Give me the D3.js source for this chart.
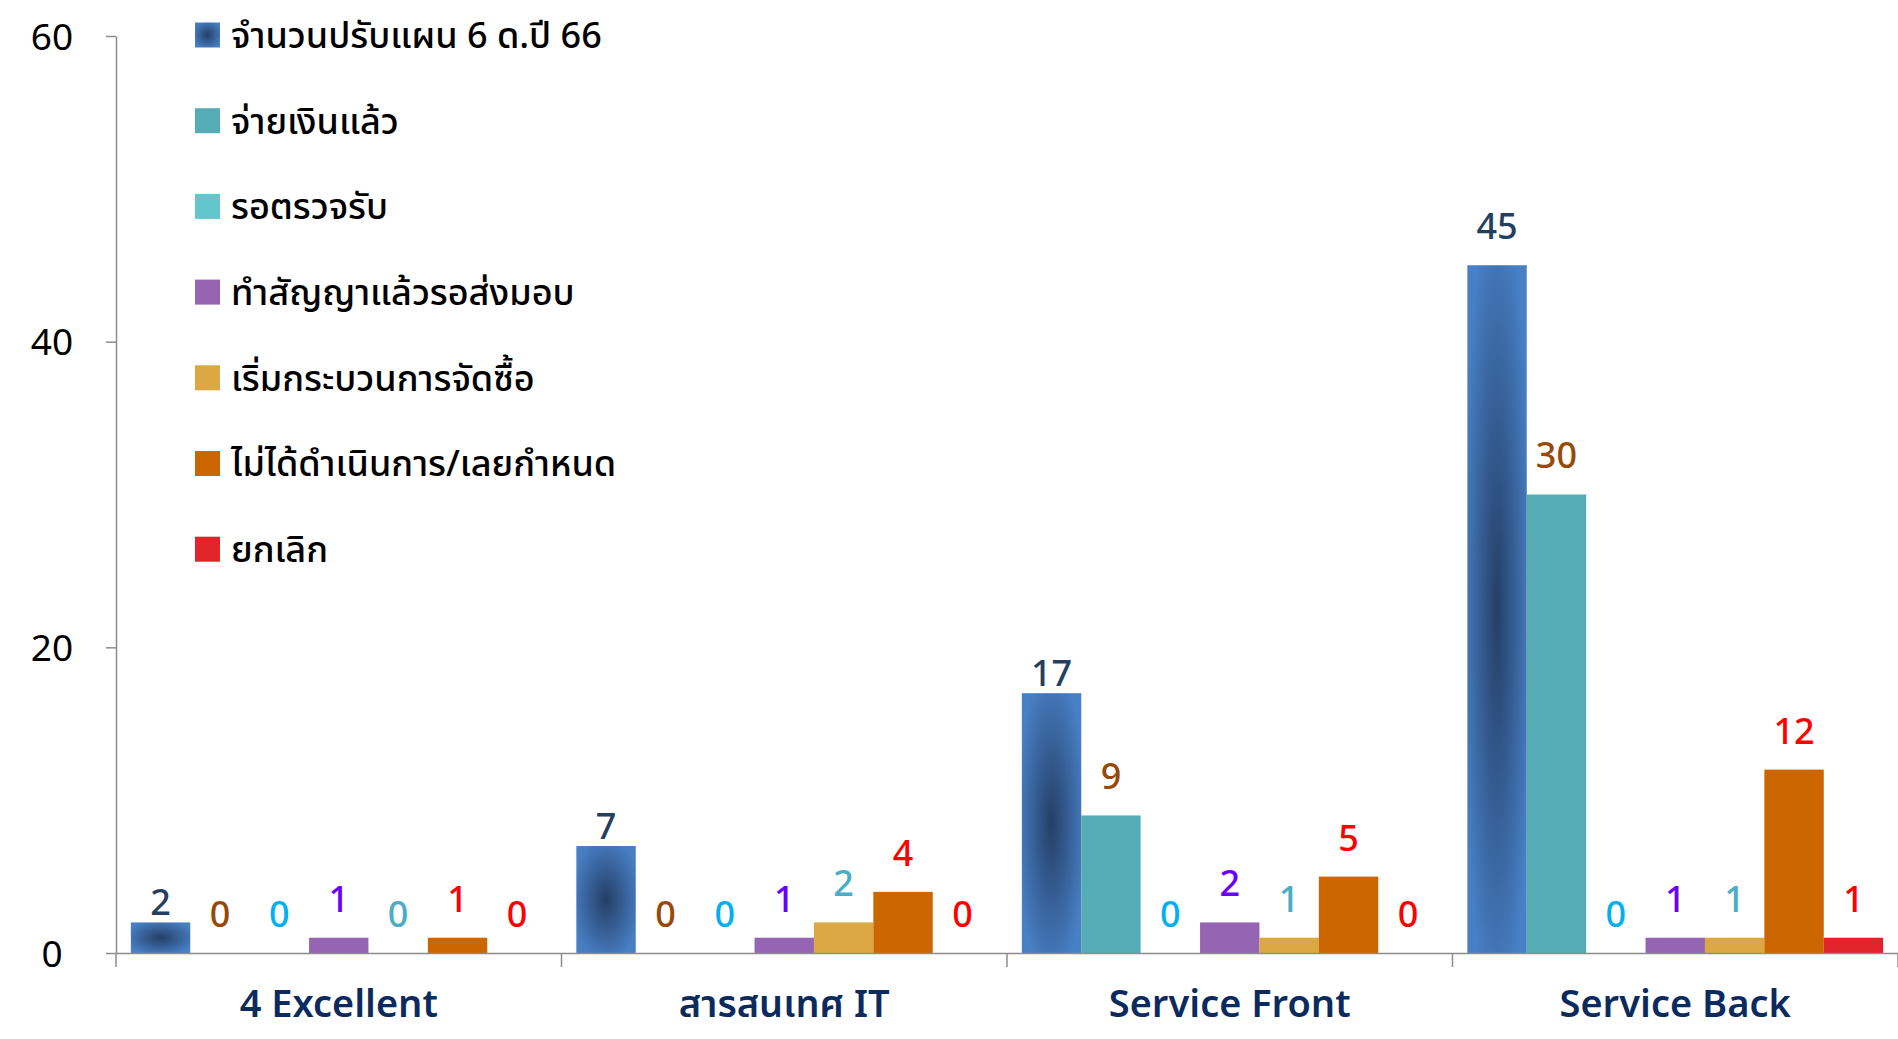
<!DOCTYPE html>
<html>
<head>
<meta charset="utf-8">
<script src="https://cdn.jsdelivr.net/npm/d3@7"></script>
<style>
  html, body { margin: 0; padding: 0; background: #fff; }
  svg text { font-family: "Noto Sans Thai", "Noto Sans", "DejaVu Sans", sans-serif; }
</style>
</head>
<body>
<div id="chart"></div>
<script>
// categories and series
var categories = ["4 Excellent", "สารสนเทศ IT", "Service Front", "Service Back"];
var seriesNames = [
    "จำนวนปรับแผน 6 ด.ปี 66",
    "จ่ายเงินแล้ว",
    "รอตรวจรับ",
    "ทำสัญญาแล้วรอส่งมอบ",
    "เริ่มกระบวนการจัดซื้อ",
    "ไม่ได้ดำเนินการ/เลยกำหนด",
    "ยกเลิก"
];
var planned    = [2, 7, 17, 45];
var paid       = [0, 0, 9, 30];
var inspecting = [0, 0, 0, 0];
var contracted = [1, 1, 2, 1];
var purchasing = [0, 2, 1, 1];
var overdue    = [1, 4, 5, 12];
var cancelled  = [0, 0, 0, 1];
var yTicks = [0, 20, 40, 60];

var seriesValues = [planned, paid, inspecting, contracted, purchasing, overdue, cancelled];
var barColors = ["url(#planGrad)", "#56acb4", "#63c6cd", "#9565b4", "#dba844", "#cc6600", "#e1232a"];
var labelColors = ["#243f60", "#984807", "#00b0f0", "#6a00ff", "#4bacc6", "#ff0000", "#ff0000"];

var W = 1898, H = 1039;
var margin = { top: 36, right: 0, bottom: 86, left: 116 };
var height = H - margin.top - margin.bottom;

var svg = d3.select("#chart").append("svg").attr("width", W).attr("height", H);

var defs = svg.append("defs");
var grad = defs.append("radialGradient").attr("id", "planGrad")
    .attr("cx", "50%").attr("cy", "50%").attr("r", "60%");
grad.append("stop").attr("offset", "0%").attr("stop-color", "#253f66");
grad.append("stop").attr("offset", "100%").attr("stop-color", "#4880c6");

var x0 = d3.scaleBand().domain(categories).range([margin.left, W - margin.right]);
var x1 = d3.scaleBand().domain(d3.range(seriesNames.length)).range([0, x0.bandwidth()]).paddingOuter(0.25);
var y = d3.scaleLinear().domain([0, 60]).range([margin.top + height, margin.top]);

var table = [];
categories.forEach(function (c, ci) {
    seriesValues.forEach(function (vals, si) {
        table.push({ cat: c, s: si, v: vals[ci] });
    });
});

// bars
svg.append("g").selectAll("rect")
    .data(table.filter(function (d) { return d.v > 0; }))
    .enter().append("rect")
    .attr("x", function (d) { return x0(d.cat) + x1(d.s); })
    .attr("y", function (d) { return y(d.v); })
    .attr("width", x1.bandwidth())
    .attr("height", function (d) { return y(0) - y(d.v); })
    .attr("fill", function (d) { return barColors[d.s]; });

// y axis
var yAxis = svg.append("g")
    .attr("transform", "translate(" + margin.left + ",0)")
    .call(d3.axisLeft(y).tickValues(yTicks).tickSize(10).tickSizeOuter(0));
yAxis.select(".domain").attr("stroke", "#8c8c8c").attr("stroke-width", 1.5);
yAxis.selectAll(".tick line").attr("stroke", "#8c8c8c").attr("stroke-width", 1.5);
yAxis.selectAll(".tick text")
    .attr("x", -64).attr("text-anchor", "middle").attr("dy", "0.36em")
    .attr("fill", "#000").style("font-size", "37px");

// x axis baseline + category separators
var xAxis = svg.append("g")
    .attr("transform", "translate(0," + y(0) + ")")
    .call(d3.axisBottom(x0).tickSize(0).tickSizeOuter(0));
xAxis.select(".domain").attr("stroke", "#8c8c8c").attr("stroke-width", 1.5);
xAxis.selectAll(".tick text")
    .attr("y", 50).attr("dy", "0.36em")
    .attr("fill", "#0b2a5e").style("font-size", "38px").style("font-weight", "600");
xAxis.selectAll(".sep")
    .data(categories.concat(["end"]))
    .enter().append("line")
    .attr("class", "sep")
    .attr("x1", function (d, i) { return i < categories.length ? x0(d) : x0(categories[i - 1]) + x0.bandwidth(); })
    .attr("x2", function (d, i) { return i < categories.length ? x0(d) : x0(categories[i - 1]) + x0.bandwidth(); })
    .attr("y1", 0).attr("y2", 14)
    .attr("stroke", "#8c8c8c").attr("stroke-width", 1.5);

// value labels
svg.append("g").selectAll("text")
    .data(table)
    .enter().append("text")
    .attr("x", function (d) { return x0(d.cat) + x1(d.s) + x1.bandwidth() / 2; })
    .attr("y", function (d) { return y(d.v) - (d.s === 0 && d.v < 20 ? 20 : 39); })
    .attr("dy", "0.36em")
    .attr("text-anchor", "middle")
    .attr("fill", function (d) { return labelColors[d.s]; })
    .style("font-size", "36px")
    .style("font-weight", "500")
    .text(function (d) { return d.v; });

// legend
var legend = svg.append("g").attr("transform", "translate(195,35)");
var item = legend.selectAll("g")
    .data(seriesNames)
    .enter().append("g")
    .attr("transform", function (d, i) { return "translate(0," + (i * 85.7) + ")"; });
item.append("rect")
    .attr("x", 0).attr("y", -12.5).attr("width", 25).attr("height", 25)
    .attr("fill", function (d, i) { return barColors[i]; });
item.append("text")
    .attr("x", 36).attr("dy", "0.36em")
    .attr("fill", "#000")
    .style("font-size", "36px")
    .style("font-weight", "500")
    .text(function (d) { return d; });
</script>
</body>
</html>
